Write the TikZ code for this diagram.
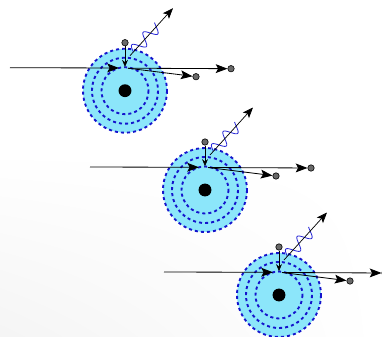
\documentclass[tikz,border=0pt]{standalone}
\usetikzlibrary{arrows.meta,shadings}

\definecolor{shellfill}{RGB}{140,230,250}
\definecolor{shellline}{RGB}{20,20,205}
\definecolor{wavecol}{RGB}{40,40,215}
\definecolor{dotgray}{RGB}{105,105,105}

\tikzset{
  shell/.style={draw=shellline, line width=1.6pt, dash pattern=on 2.6pt off 2.6pt},
  nucleus/.style={circle, fill=black, inner sep=0pt, minimum size=11pt},
  eldot/.style={circle, draw=black, fill=dotgray, line width=0.5pt, inner sep=0pt, minimum size=5.5pt},
  beam/.style={line width=0.7pt, -{Stealth[length=10pt,width=7.5pt,inset=2pt]}},
  drop/.style={line width=0.6pt, -{Stealth[length=6pt,width=5pt]}},
  photon/.style={line width=0.6pt, -{Stealth[length=9pt,width=7pt,inset=2pt]}},
  wave/.style={wavecol, line width=0.7pt}
}

\begin{document}
\begin{tikzpicture}[x=0.03cm, y=-0.03cm]
  % 背景
  \clip (0,0) rectangle (382,337);
  \fill[white] (0,0) rectangle (382,337);
  \shade[upper left=white, upper right=white, lower right=white, lower left=black!4]
    (0,150) rectangle (382,337);

  \foreach \i/\cx/\cy in {1/125/90.7, 2/205/190, 3/279/295}{
    \begin{scope}[shift={(\cx,\cy)}]
      % 電子殻
      \coordinate (c\i) at (0,0);
      \fill[shellfill] (c\i) circle (42);
      \draw[shell] (c\i) circle (42);
      \draw[shell] (c\i) circle (33);
      \draw[shell] (c\i) circle (23.5);
      \node[nucleus] (n\i) at (c\i) {};

      % 入射電子
      \coordinate (in\i) at (-115,-23);
      \coordinate (hin\i) at (-6,-22.7);
      \draw[beam] (in\i) -- (hin\i);

      % 上の殻から落ちる電子
      \node[eldot] (top\i) at (0,-48) {};
      \coordinate (hit\i) at (0,-23.8);
      \draw[drop] (top\i) -- (hit\i);

      % 光子（波）
      \coordinate (ph\i) at (5,-35);
      \coordinate (gam\i) at (48,-82.5);
      \begin{scope}[shift={(5,-35)}, rotate=47.8]
        \draw[wave] plot[domain=0:36, samples=90, smooth]
          (\x+5, {-6*sin(\x*360/17)});
      \end{scope}
      \draw[photon] (ph\i) -- (gam\i);

      % 散乱電子
      \coordinate (hout\i) at (3,-22.5);
      \node[eldot] (ea\i) at (106,-22) {};
      \node[eldot] (eb\i) at (71,-14) {};
      \draw[beam] (hout\i) -- (ea\i);
      \draw[beam] (hout\i) -- (eb\i);
    \end{scope}
  }
\end{tikzpicture}
\end{document}
